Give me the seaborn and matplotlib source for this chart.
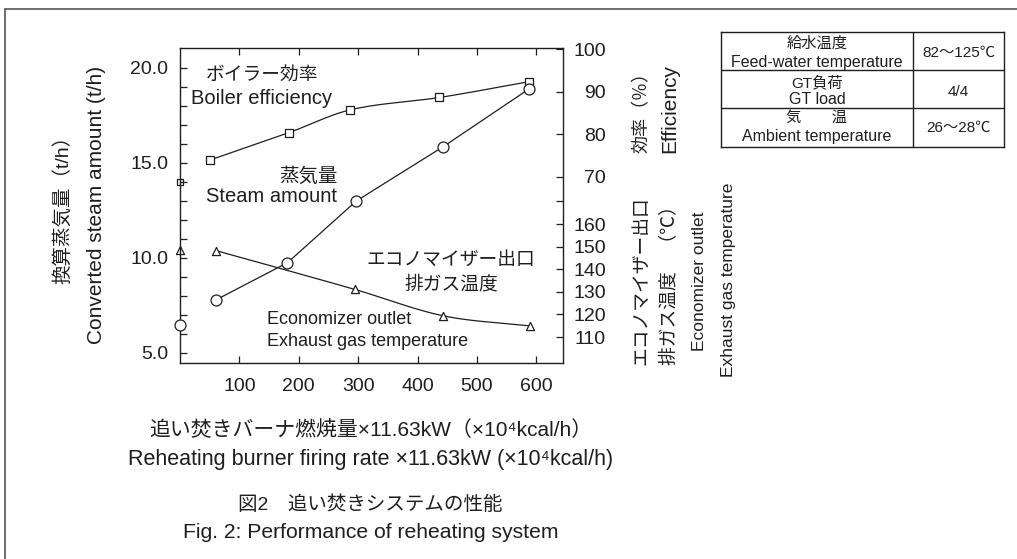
import numpy as np
import seaborn as sns
import matplotlib.pyplot as plt
from matplotlib.lines import Line2D

# ---------------- values ----------------
# boiler efficiency (%), right upper scale
eff_x = [51, 183, 287, 437, 587]
eff_y = [74.0, 80.4, 85.8, 88.7, 92.4]
eff_base = 68.7          # no reheating (x = 0)

# converted steam amount (t/h), left scale
steam_x = [61, 181, 297, 443, 588]
steam_y = [7.8, 9.75, 13.0, 15.85, 18.9]
steam_base = 6.45

# economizer outlet exhaust gas temperature (degC), right lower scale
temp_x = [61, 294, 443, 589]
temp_y = [148.2, 131.1, 119.4, 114.9]
temp_base = 148.5

x_ticks = [100, 200, 300, 400, 500, 600]
steam_ticks = [5, 10, 15, 20]
steam_labels = ["5.0", "10.0", "15.0", "20.0"]
eff_ticks = [70, 80, 90, 100]
temp_ticks = [110, 120, 130, 140, 150, 160, 170]
temp_labels = ["110", "120", "130", "140", "150", "160", ""]

table_rows = [("給水温度", "Feed-water temperature", "82～125℃"),
              ("GT負荷", "GT load", "4/4"),
              ("気　　温", "Ambient temperature", "26～28℃")]

# ---------------- style ----------------
sns.set_style("ticks")
plt.rcParams['font.family'] = ['Liberation Sans', 'Noto Sans CJK JP', 'DejaVu Sans']
INK = "#1e1e1e"
W, H = 1017, 559


def px(x, y):
    return x / W, 1 - y / H


def smooth(xs, ys, n=50):
    # cubic hermite through the points (only for drawing the hand-drawn curves)
    xs = np.asarray(xs, float)
    ys = np.asarray(ys, float)
    d = np.diff(ys) / np.diff(xs)
    m = np.empty_like(xs)
    m[1:-1] = (ys[2:] - ys[:-2]) / (xs[2:] - xs[:-2])
    m[0], m[-1] = d[0], d[-1]
    out_x, out_y = [], []
    for i in range(len(xs) - 1):
        h = xs[i + 1] - xs[i]
        t = np.linspace(0, 1, n)
        h00 = 2 * t**3 - 3 * t**2 + 1
        h10 = t**3 - 2 * t**2 + t
        h01 = -2 * t**3 + 3 * t**2
        h11 = t**3 - t**2
        out_x.append(xs[i] + t * h)
        out_y.append(h00 * ys[i] + h10 * h * m[i] + h01 * ys[i + 1] + h11 * h * m[i + 1])
    return np.concatenate(out_x), np.concatenate(out_y)


fig = plt.figure(figsize=(10.17, 5.59), dpi=100)
ax = fig.add_axes([180 / W, 1 - 363 / H, (563 - 180) / W, (363 - 48) / H])
ax_eff = ax.twinx()
ax_tmp = ax.twinx()
ax.set_zorder(ax_tmp.get_zorder() + 1)
ax.patch.set_visible(False)

# ---------------- curves ----------------
mk = dict(color="white", edgecolor=INK, linewidth=0.9, clip_on=False, zorder=4, legend=False)

sx, sy = smooth(eff_x, eff_y)
sns.lineplot(x=sx, y=sy, ax=ax_eff, color=INK, lw=0.9, sort=False, estimator=None)
sns.scatterplot(x=eff_x, y=eff_y, ax=ax_eff, marker="s", s=28, **mk)
sns.scatterplot(x=[0], y=[eff_base], ax=ax_eff, marker="s", s=20, **mk)

tx, ty = smooth(temp_x, temp_y)
sns.lineplot(x=tx, y=ty, ax=ax_tmp, color=INK, lw=0.9, sort=False, estimator=None)
sns.scatterplot(x=temp_x, y=temp_y, ax=ax_tmp, marker="^", s=34, **mk)
sns.scatterplot(x=[0], y=[temp_base], ax=ax_tmp, marker="^", s=34, **mk)

sns.lineplot(x=steam_x, y=steam_y, ax=ax, color=INK, lw=0.9, sort=False, estimator=None)
sns.scatterplot(x=steam_x, y=steam_y, ax=ax, marker="o", s=62, **mk)
sns.scatterplot(x=[0], y=[steam_base], ax=ax, marker="o", s=62, **mk)

# ---------------- axes ----------------
ax.set_xlim(0, 645)
ax.set_ylim(4.47, 21.05)
ax_eff.set_ylim(26.2, 100.35)
ax_tmp.set_ylim(98.5, 237.9)

ax.set_xticks(x_ticks)
ax.set_yticks(steam_ticks, steam_labels)
ax.set_yticks(np.arange(5, 21, 1), minor=True)
ax.tick_params(axis="x", which="both", top=True, bottom=True, direction="in",
               length=5, width=0.9, pad=11, labelsize=14, color=INK, labelcolor=INK)
ax.tick_params(axis="y", which="both", left=True, right=False, direction="in",
               length=5, width=0.9, pad=8.5, labelsize=14, color=INK, labelcolor=INK)
ax.set_xlabel("")
ax.set_ylabel("")

ax_eff.set_yticks(eff_ticks, [str(v) for v in eff_ticks])
ax_tmp.set_yticks(temp_ticks, temp_labels)
for a in (ax_eff, ax_tmp):
    a.tick_params(axis="y", which="both", right=True, left=False, direction="in",
                  length=5, width=0.9, pad=31, labelsize=14, color=INK, labelcolor=INK)
    plt.setp(a.get_yticklabels(), ha="right")
    a.set_ylabel("")
    for s in a.spines.values():
        s.set_visible(False)

for s in ax.spines.values():
    s.set_visible(True)
    s.set_linewidth(1.0)
    s.set_color(INK)

# ---------------- labels ----------------
def label(x, y, s, size=14.5, **kw):
    fig.text(*px(x, y), s, fontsize=size, color=INK, **kw)


label(63, 205, "換算蒸気量（t/h）", 14, rotation=90, ha="center", va="center")
label(97, 205, "Converted steam amount (t/h)", 15, rotation=90, ha="center", va="center")

label(642, 153, "効率（％）", 13, rotation=90, ha="center", va="bottom")
label(670, 153, "Efficiency", 15, rotation=90, ha="center", va="bottom")
label(642, 365, "エコノマイザー出口", 13.5, rotation=90, ha="center", va="bottom")
label(670, 365, "排ガス温度　（℃）", 13.5, rotation=90, ha="center", va="bottom")
label(700, 281, "Economizer outlet", 12.5, rotation=90, ha="center", va="center")
label(728, 280, "Exhaust gas temperature", 12.5, rotation=90, ha="center", va="center")

label(262, 75, "ボイラー効率", 13.5, ha="center", va="center")
label(262, 99, "Boiler efficiency", 14.5, ha="center", va="center")
label(338, 177, "蒸気量", 14, ha="right", va="center")
label(337, 197, "Steam amount", 14.5, ha="right", va="center")
label(451, 260, "エコノマイザー出口", 13.5, ha="center", va="center")
label(451, 285, "排ガス温度", 13.5, ha="center", va="center")
label(267, 320, "Economizer outlet", 13, ha="left", va="center")
label(267, 341, "Exhaust gas temperature", 13, ha="left", va="center")

label(371, 430, "追い焚きバーナ燃焼量×11.63kW（×10⁴kcal/h）", 15, ha="center", va="center")
label(371, 460, "Reheating burner firing rate ×11.63kW (×10⁴kcal/h)", 15.5, ha="center", va="center")
label(370, 505, "図2　追い焚きシステムの性能", 14, ha="center", va="center")
label(371, 533, "Fig. 2: Performance of reheating system", 15.2, ha="center", va="center")

# ---------------- condition table ----------------
tab = fig.add_axes([721 / W, 1 - 147 / H, 283 / W, 115 / H])
tab.set_xlim(0, 1)
tab.set_ylim(0, 1)
tab.set_xticks([])
tab.set_yticks([])
for s in tab.spines.values():
    s.set_linewidth(1.0)
    s.set_color(INK)
tab.axvline(0.678, color=INK, lw=1.0)
for yy in (0.670, 0.339):
    tab.axhline(yy, color=INK, lw=1.0)
row_y = [(0.904, 0.739, 0.817), (0.557, 0.409, 0.478), (0.252, 0.087, 0.165)]
for (jp, en, val), (yj, ye, yv) in zip(table_rows, row_y):
    tab.text(0.339, yj, jp, fontsize=11, ha="center", va="center", color=INK)
    tab.text(0.339, ye, en, fontsize=11.5, ha="center", va="center", color=INK)
    tab.text(0.839, yv, val, fontsize=11, ha="center", va="center", color=INK)

# outer frame (top and left edges visible)
fig.add_artist(Line2D([5 / W, 1], [1 - 9 / H] * 2, transform=fig.transFigure, color="#555555", lw=1.2))
fig.add_artist(Line2D([5 / W] * 2, [0, 1 - 9 / H], transform=fig.transFigure, color="#555555", lw=1.2))

fig.savefig("out.png", dpi=100)
